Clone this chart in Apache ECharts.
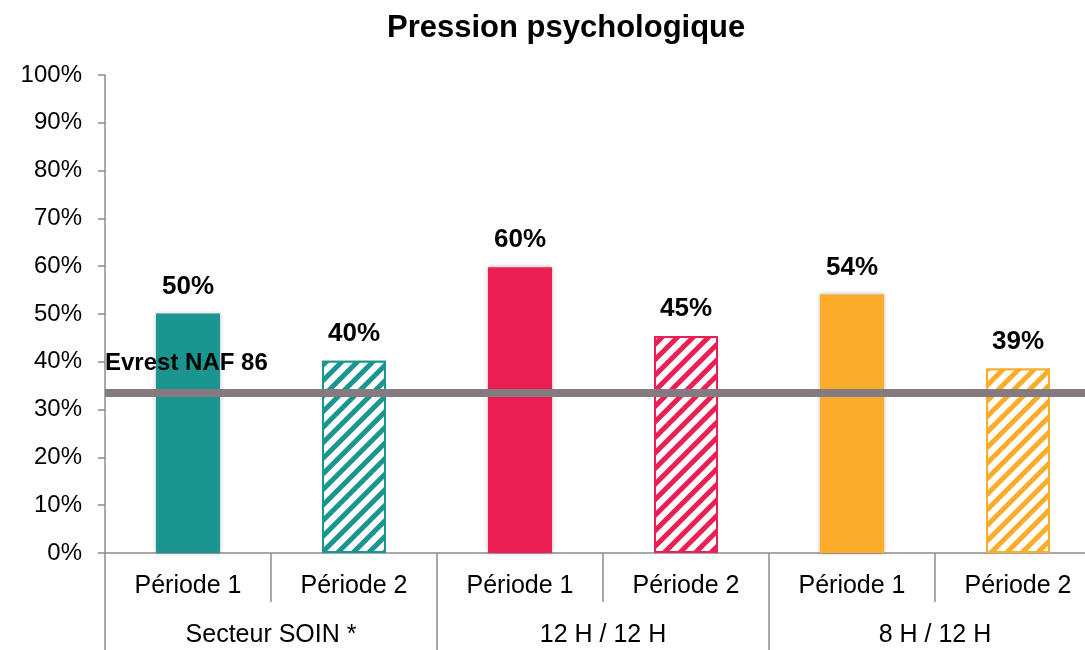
<!DOCTYPE html>
<html>
<head>
<meta charset="utf-8">
<script src="https://cdn.jsdelivr.net/npm/echarts@6/dist/echarts.min.js"></script>
<style>
  html, body { margin: 0; padding: 0; background: #fff; }
  #main { width: 1085px; height: 650px; }
</style>
</head>
<body>
<div id="main"></div>
<script>
// chart values
var periods = ['Période 1', 'Période 2', 'Période 1', 'Période 2', 'Période 1', 'Période 2'];
var groups = ['Secteur SOIN *', '12 H / 12 H', '8 H / 12 H'];
var values = [50.1, 40.2, 59.8, 45.4, 54.1, 38.6];
var yTicks = [0, 10, 20, 30, 40, 50, 60, 70, 80, 90, 100];
var refValue = 33.6;
var refLabel = 'Evrest NAF 86';

var groupColors = ['#1a9590', '#ec1f55', '#f9ad2b'];
var font = 'Liberation Sans, Arial, sans-serif';

var mychart = echarts.init(document.getElementById('main'));

var barData = [];
for (var i = 0; i < values.length; i++) {
  var c = groupColors[Math.floor(i / 2)];
  if (i % 2 === 0) {
    barData.push({
      value: values[i],
      itemStyle: { color: c, shadowColor: 'rgba(0,0,0,0.3)', shadowBlur: 4 }
    });
  } else {
    barData.push({
      value: values[i],
      itemStyle: {
        color: '#fff',
        borderColor: c,
        borderWidth: 2,
        decal: {
          color: c,
          backgroundColor: '#fff',
          symbol: 'rect',
          symbolSize: 1,
          dashArrayX: [1, 0],
          dashArrayY: [5, 6],
          rotation: -Math.PI / 4
        }
      }
    });
  }
}

var option = {
  backgroundColor: '#fff',
  animation: false,
  title: {
    text: 'Pression psychologique',
    left: 382,
    top: 8,
    textStyle: { fontFamily: font, fontSize: 31, fontWeight: 'bold', color: '#000' }
  },
  grid: { left: 105, top: 75, height: 478, width: 996, outerBoundsMode: 'none', containLabel: false },
  xAxis: [
    {
      type: 'category',
      data: periods,
      axisLine: { lineStyle: { color: '#8c8c8c', width: 1.5 } },
      axisTick: { show: true, length: 49, lineStyle: { color: '#8c8c8c', width: 1.5 } },
      axisLabel: { fontFamily: font, fontSize: 25, color: '#000', margin: 21 }
    },
    {
      type: 'category',
      data: groups,
      position: 'bottom',
      axisLine: { show: false },
      axisTick: { show: true, length: 110, lineStyle: { color: '#8c8c8c', width: 1.5 } },
      axisLabel: { fontFamily: font, fontSize: 25, color: '#000', margin: 70 }
    }
  ],
  yAxis: {
    type: 'value',
    min: yTicks[0],
    max: yTicks[yTicks.length - 1],
    interval: 10,
    axisLine: { show: true, lineStyle: { color: '#8c8c8c', width: 1.5 } },
    axisTick: { show: true, length: 7, lineStyle: { color: '#8c8c8c', width: 1.5 } },
    splitLine: { show: false },
    axisLabel: { fontFamily: font, fontSize: 24, color: '#000', margin: 23, formatter: '{value}%' }
  },
  series: [
    {
      type: 'bar',
      xAxisIndex: 0,
      barWidth: 64,
      data: barData,
      label: {
        show: true,
        position: 'top',
        distance: 14,
        fontFamily: font,
        fontSize: 26,
        fontWeight: 'bold',
        color: '#000'
        ,formatter: function (p) { return Math.round(p.value) + '%'; }
      },
      markLine: {
        silent: true,
        symbol: 'none',
        z: 10,
        lineStyle: { color: '#857a80', width: 8, type: 'solid' },
        label: {
          show: true,
          position: 'insideStartTop',
          distance: [0, 17],
          formatter: refLabel,
          fontFamily: font,
          fontSize: 24,
          fontWeight: 'bold',
          color: '#000'
        },
        data: [{ yAxis: refValue }]
      }
    }
  ]
};

mychart.setOption(option);
</script>
</body>
</html>
